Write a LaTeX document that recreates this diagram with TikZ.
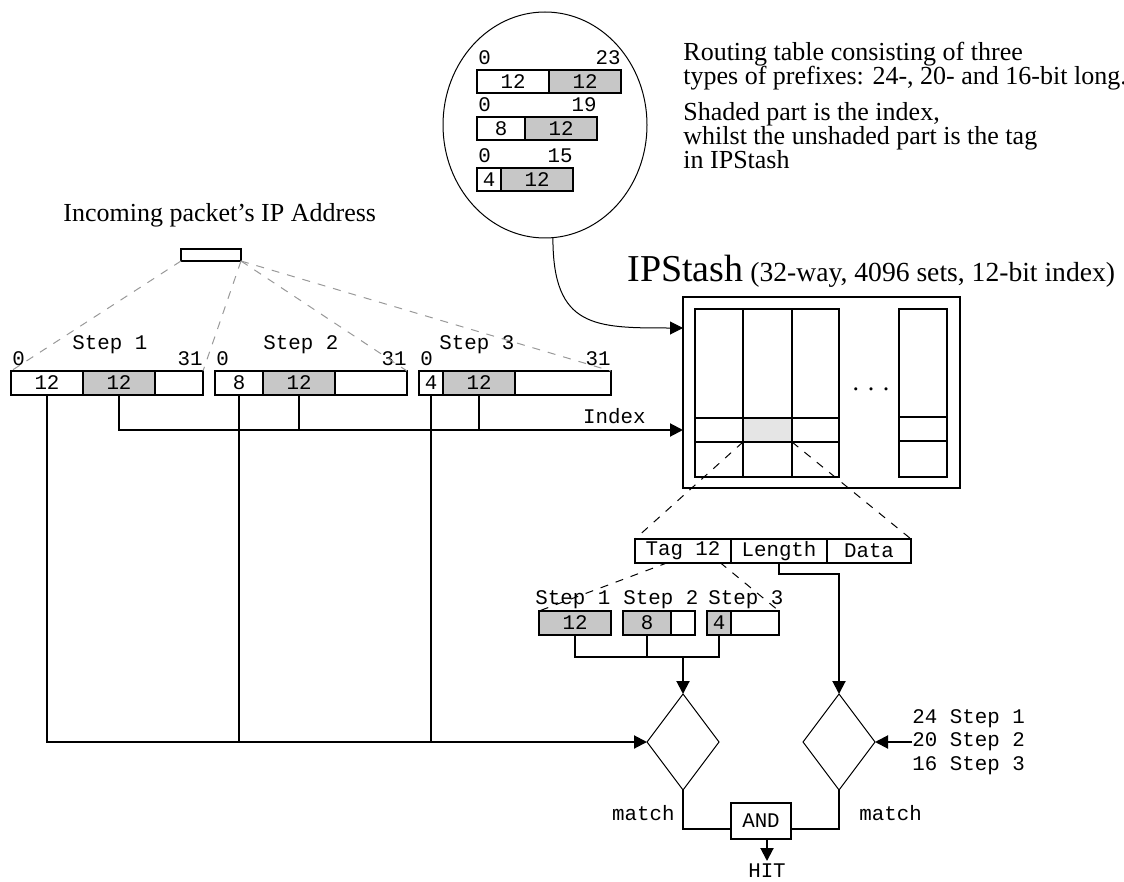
\documentclass[tikz,border=0pt]{standalone}
\usepackage{fontspec}
\setmainfont{Liberation Serif}
\setmonofont{Liberation Mono}
\usetikzlibrary{arrows.meta,positioning,shapes.geometric}
\lineskiplimit=-10pt
\newcommand\codefont{\ttfamily\fontsize{10.4}{11.75}\selectfont}
\newcommand\notefont{\fontsize{13}{12}\selectfont}

\begin{document}
\begin{tikzpicture}[
    x=0.5pt, y=-0.5pt,
    >={Triangle[length=6.5pt,width=6.5pt]},
    mono/.style={font=\codefont,inner sep=0pt},
    note/.style={font=\notefont,inner sep=0pt,align=left,anchor=north west},
    cell/.style={draw,line width=1pt,inner sep=0pt,outer sep=0pt,minimum height=11.75pt,anchor=north west,font=\codefont},
    idx/.style={cell,fill=black!22},
    wire/.style={line width=1pt},
    hair/.style={line width=0.5pt},
    fan/.style={line width=0.5pt,dash pattern=on 4pt off 4pt},
    ipfan/.style={fan,draw=black!40},
    cmp/.style={draw,diamond,line width=0.5pt,minimum width=36pt,minimum height=48pt,inner sep=0pt,outer sep=0pt}
  ]
    \useasboundingbox (0,0) rectangle (1124,882);

    % prefix lengths, drawn in a bubble
    \node[draw,ellipse,hair,minimum width=102pt,minimum height=113pt,inner sep=0pt] (circ) at (545,125) {};
    \foreach \i/\y/\w/\a/\hi in {1/70/36pt/12/23, 2/117/24pt/8/19, 3/168/12pt/4/15} {
      \node[cell,minimum width=\w] (ra\i) at (477,\y) {\a};
      \node[idx,minimum width=36pt,right=0pt of ra\i] (rb\i) {12};
      \node[mono,anchor=base west] (rl\i) at ([xshift=0.5pt,yshift=2.5pt]ra\i.north west) {0};
      \node[mono,anchor=base east] (rh\i) at ([yshift=2.5pt]rb\i.north east) {\hi};
    }
    \node[note] (note1) at (683,42) {Routing table consisting of three\\types of prefixes: 24-, 20- and 16-bit long.};
    \node[note] (note2) at (683,102) {Shaded part is the index,\\whilst the unshaded part is the tag\\in IPStash};

    % incoming address and the three lookup steps
    \node[font=\notefont,inner sep=0pt,anchor=base west] (inlbl) at (63,222) {Incoming packet's IP Address};
    \node[draw,line width=1pt,minimum width=30pt,minimum height=6pt,inner sep=0pt,outer sep=0pt] (ip) at (211,255) {};
    \foreach \i/\x/\s/\wa/\a/\wc in {1/11/72/36pt/12/24pt, 2/215/263/24pt/8/36pt, 3/419/439/12pt/4/48pt} {
      \node[cell,minimum width=\wa] (sa\i) at (\x,371) {\a};
      \node[idx,minimum width=36pt,right=0pt of sa\i] (sb\i) {12};
      \node[cell,minimum width=\wc,right=0pt of sb\i] (sc\i) {};
      \node[mono,anchor=base west] (st\i) at (\s,350) {Step \i};
      \node[mono,anchor=base west] (lo\i) at ([xshift=0.5pt,yshift=3pt]sa\i.north west) {0};
      \node[mono,anchor=base east] (hi\i) at ([yshift=3pt]sc\i.north east) {31};
    }
    \draw[ipfan] (ip.south west) -- (sa1.north west);
    \foreach \i in {1,2,3}
      \draw[ipfan] (ip.south east) -- (sc\i.north east);

    % IPStash
    \node[anchor=base west,inner sep=0pt] (title) at (627,282)
      {\fontsize{19}{20}\selectfont IPStash\fontsize{13.8}{16}\selectfont\ (32-way, 4096 sets, 12-bit index)};
    \node[draw,line width=1pt,minimum width=138.5pt,minimum height=95.5pt,inner sep=0pt,outer sep=0pt] (stash) at (821.5,392.5) {};
    \draw[wire] (695,309) rectangle (839,477)
      (743,309) -- (743,477) (792,309) -- (792,477)
      (695,418) -- (839,418) (695,442) -- (839,442);
    \draw[wire] (899,309) rectangle (947,477)
      (899,417) -- (947,417) (899,441) -- (947,441);
    \node[cell,fill=black!10,minimum width=24.5pt,minimum height=12pt] (way) at (743,418) {};
    \node[font=\notefont,inner sep=0pt] (dots) at (871,389) {. . .};

    \draw[hair,->] (circ.274) .. controls ([yshift=-45pt]circ.274) and ([xshift=-44pt,yshift=32.25pt]stash.west) .. ([yshift=32.25pt]stash.west);

    \coordinate (idx) at ([yshift=-18.75pt]stash.west);
    \draw[wire,->] (sb1.south) |- (idx);
    \foreach \i in {2,3}
      \draw[wire] (sb\i.south) -- (sb\i.south |- idx);
    \node[mono,anchor=base east] (idxlbl) at ([xshift=-18.5pt,yshift=3.5pt]idx) {Index};

    % entry read from the set
    \node[cell,minimum width=48pt] (t1) at (635,539) {Tag 12};
    \node[cell,minimum width=48pt,right=0pt of t1] (t2) {Length};
    \node[cell,minimum width=42pt,right=0pt of t2] (t3) {Data};
    \draw[fan] (way.south west) -- (t1.north west);
    \draw[fan] (way.south east) -- (t3.north east);

    \node[idx,minimum width=36pt] (k1) at (539,611) {12};
    \node[idx,minimum width=24pt] (k2a) at (623,611) {8};
    \node[cell,minimum width=12pt,right=0pt of k2a] (k2b) {};
    \node[idx,minimum width=12pt] (k3a) at (707,611) {4};
    \node[cell,minimum width=24pt,right=0pt of k3a] (k3b) {};
    \foreach \i/\x in {1/535,2/623,3/708}
      \node[mono,anchor=base west] (ks\i) at (\x,604) {Step \i};
    \draw[fan] ([xshift=16.5pt]t1.south west) -- (k1.north west);
    \draw[fan] ([xshift=-5.5pt]t1.south east) -- (k3b.north east);

    % comparators
    \node[cmp] (cmpL) at (683,742) {};
    \node[cmp] (cmpR) at (839,742) {};
    \node[mono,align=left,anchor=west,font=\codefont] (prefix) at (912,742) {24 Step 1\\20 Step 2\\16 Step 3};

    \coordinate (join) at ([yshift=18.5pt]cmpL.north);
    \draw[wire] (k1.south) |- (join) -| (k3a.south);
    \draw[wire] (k2a.south) -- (k2a.south |- join);
    \draw[wire,->] (join) -- (cmpL.north);
    \draw[wire,->] (t2.south) -- ++(0,11) -| (cmpR.north);
    \draw[wire,->] (prefix.west) -- (cmpR.east);

    \draw[wire,->] (sa1.south) |- (cmpL.west);
    \foreach \i in {2,3}
      \draw[wire] (sa\i.south) -- (sa\i.south |- cmpL.west);

    \node[draw,line width=1pt,minimum width=30pt,minimum height=18pt,inner sep=0pt,outer sep=0pt,font=\codefont] (gate) at (761,821) {AND};
    \node[mono,anchor=base east] (mL) at ([xshift=-4pt,yshift=-15pt]cmpL.south) {match};
    \node[mono,anchor=base west] (mR) at ([xshift=10pt,yshift=-15pt]cmpR.south) {match};
    \draw[wire] (cmpL.south) |- ([yshift=-4pt]gate.west);
    \draw[wire] (cmpR.south) |- ([yshift=-4pt]gate.east);
    \node[mono,inner sep=1pt,anchor=north] (hit) at ([xshift=3pt,yshift=-11pt]gate.south) {HIT};
    \draw[wire,->] ([xshift=3pt]gate.south) -- (hit.north);
  \end{tikzpicture}
\end{document}
